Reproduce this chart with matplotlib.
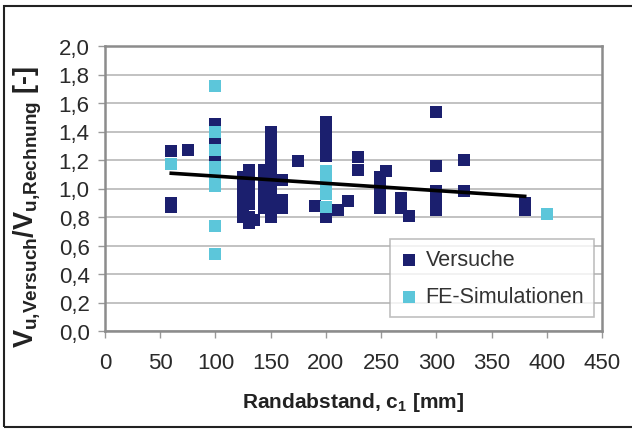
import matplotlib
matplotlib.use("Agg")
import matplotlib.pyplot as plt
from matplotlib.patches import Rectangle

plt.rcParams['font.family'] = ['Liberation Sans', 'DejaVu Sans']
plt.rcParams['mathtext.fontset'] = 'custom'
plt.rcParams['mathtext.rm'] = 'Liberation Sans'
plt.rcParams['mathtext.bf'] = 'Liberation Sans:bold'
plt.rcParams['mathtext.it'] = 'Liberation Sans:italic'

# Versuche (tests)
versuche_x = [60, 60, 60, 75, 100, 100, 100,
              125, 125, 125, 125, 125,
              130, 130, 130, 130, 130, 130, 135,
              144, 144, 144, 144, 144,
              150, 150, 150, 150, 150, 150, 150, 150, 150,
              160, 160, 160, 175, 190,
              200, 200, 200, 200, 200, 211, 220, 229, 229,
              249, 249, 249, 249, 254, 268, 268, 275,
              300, 300, 300, 300, 300, 325, 325, 380, 380]
versuche_y = [1.26, 0.90, 0.87, 1.27, 1.45, 1.33, 1.21,
              1.08, 1.00, 0.92, 0.85, 0.80,
              1.13, 1.05, 0.97, 0.89, 0.80, 0.76, 0.78,
              1.13, 1.05, 0.97, 0.90, 0.86,
              1.40, 1.33, 1.25, 1.17, 1.10, 1.02, 0.95, 0.88, 0.80,
              1.06, 0.92, 0.86, 1.19, 0.88,
              1.47, 1.39, 1.31, 1.23, 0.80, 0.85, 0.91, 1.22, 1.13,
              1.08, 1.00, 0.92, 0.86, 1.12, 0.93, 0.86, 0.81,
              1.54, 1.16, 0.98, 0.91, 0.85, 1.20, 0.98, 0.90, 0.85]

# FE-Simulationen
fe_x = [60, 100, 100, 100, 100, 100, 100, 100, 100, 200, 200, 200, 200, 400]
fe_y = [1.17, 1.72, 1.40, 1.27, 1.15, 1.08, 1.02, 0.74, 0.54, 1.12, 1.04, 0.96, 0.87, 0.82]

# trend line
trend_x = [60, 380]
trend_y = [1.107, 0.945]

x_ticks = [0, 50, 100, 150, 200, 250, 300, 350, 400, 450]
y_ticks = [0.0, 0.2, 0.4, 0.6, 0.8, 1.0, 1.2, 1.4, 1.6, 1.8, 2.0]
y_ticklabels = ['0,0', '0,2', '0,4', '0,6', '0,8', '1,0', '1,2', '1,4', '1,6', '1,8', '2,0']

dark = '#1b1f6e'
light = '#5cc6da'

W, H = 632, 439
fig = plt.figure(figsize=(W / 100, H / 100), dpi=100)
ax = fig.add_axes([105 / W, 1 - 332 / H, (602 - 105) / W, (332 - 47) / H])

# figure frame
fig.patches.append(Rectangle((4 / W, 1 - 428 / H), 1.0, (428 - 7) / H,
                             transform=fig.transFigure, fill=False,
                             edgecolor='#222222', linewidth=1.5))

ax.set_xlim(0, 450)
ax.set_ylim(0, 2.0)
ax.set_xticks(x_ticks)
ax.set_yticks(y_ticks)
ax.set_yticklabels(y_ticklabels)
ax.tick_params(axis='both', labelsize=16, labelcolor='#2a2a2a', length=5,
               width=1.0, direction='out', color='#999999')
ax.tick_params(axis='x', pad=10)
ax.tick_params(axis='y', pad=6)
ax.grid(axis='y', color='#b8b8b8', linewidth=1.2)
ax.set_axisbelow(True)
for s in ax.spines.values():
    s.set_color('#8c8c8c')
    s.set_linewidth(1.8)

ms = 74
ax.scatter(versuche_x, versuche_y, marker='s', s=ms, color=dark,
           linewidths=0, label='Versuche', zorder=3)
ax.scatter(fe_x, fe_y, marker='s', s=ms, color=light,
           linewidths=0, label='FE-Simulationen', zorder=4)
ax.plot(trend_x, trend_y, color='black', linewidth=2.6, zorder=5)

ax.set_xlabel(r'Randabstand, c$_\mathbf{1}$ [mm]', fontsize=15,
              fontweight='bold', color='#222222', labelpad=12)
ax.set_ylabel(r'$\mathbf{V_{u{,}Versuch}/V_{u{,}Rechnung}}$ [-]', fontsize=19.5,
              fontweight='bold', color='#222222')
ax.yaxis.set_label_coords(-0.122, 0.44)

leg = ax.legend(loc='lower left', bbox_to_anchor=(390 / W, 1 - 318 / H),
                bbox_transform=fig.transFigure, fontsize=15.5,
                frameon=True, fancybox=False, borderaxespad=0,
                handletextpad=0.3, labelspacing=0.75, borderpad=0.45,
                handlelength=0.9, markerscale=1.0)
leg.get_frame().set_edgecolor('#b0b0b0')
leg.get_frame().set_linewidth(1.2)
for t in leg.get_texts():
    t.set_color('#333333')

fig.savefig('out.png', dpi=100)
